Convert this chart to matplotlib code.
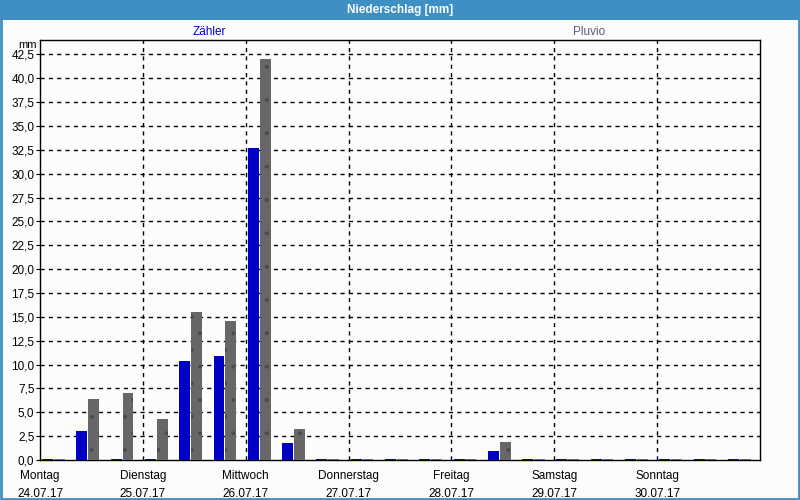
import matplotlib
matplotlib.use("Agg")
import matplotlib.pyplot as plt
from matplotlib.patches import Rectangle
from matplotlib.ticker import FixedLocator, FuncFormatter
import numpy as np

# 8-hour precipitation sums, Mon 24.07.17 .. Sun 30.07.17
zaehler = [0.1, 3.0, 0.1, 0.1, 10.4, 10.9, 32.7, 1.8, 0.1, 0.1, 0.1,
           0.1, 0.1, 0.9, 0.1, 0.1, 0.1, 0.1, 0.1, 0.1, 0.1]
pluvio = [0.1, 6.4, 7.0, 4.3, 15.5, 14.6, 42.0, 3.3, 0.1, 0.1, 0.1,
          0.1, 0.1, 1.9, 0.1, 0.1, 0.1, 0.1, 0.1, 0.1, 0.1]
days = ["Montag", "Dienstag", "Mittwoch", "Donnerstag", "Freitag", "Samstag", "Sonntag"]
dates = ["24.07.17", "25.07.17", "26.07.17", "27.07.17", "28.07.17", "29.07.17", "30.07.17"]
y_ticks = [i * 2.5 for i in range(18)]

plt.rcParams["font.family"] = ["Liberation Sans", "DejaVu Sans"]
bg = "#fbfcfb"
blue = "#0000c4"
gray = "#676767"

fig = plt.figure(figsize=(8, 5), dpi=100, facecolor=bg)

# title bar + window frame
fig.patches.append(Rectangle((0, 0.96), 1, 0.04, transform=fig.transFigure,
                             facecolor="#3d8fc4", edgecolor="none", zorder=0))
fig.patches.append(Rectangle((0.001, 0.002), 0.998, 0.996, transform=fig.transFigure,
                             facecolor="none", edgecolor="#3d8fc4", linewidth=2, zorder=0))
fig.text(0.5, 0.98, "Niederschlag [mm]", color="white", fontweight="bold",
         fontsize=8.5, ha="center", va="center")
fig.text(209 / 800, 0.936, "Zähler", color=blue, fontsize=8.5, ha="center", va="center")
fig.text(589 / 800, 0.936, "Pluvio", color="#5a5a82", fontsize=8.5, ha="center", va="center")

ax = fig.add_axes([0.05, 0.08, 0.90, 0.84], facecolor=bg)

slot = 8  # hours
x = np.arange(len(zaehler)) * slot
ax.bar(x + 0.5, zaehler, width=2.55, align="edge", color=blue, linewidth=0, zorder=3)
plt.rcParams["hatch.color"] = "#4a4a4a"
plt.rcParams["hatch.linewidth"] = 0.4
ax.bar(x + 3.25, pluvio, width=2.55, align="edge", color=gray, linewidth=0,
       hatch=".", zorder=3)

ax.set_xlim(0, 168)
ax.set_ylim(0, 44.0)

ax.yaxis.set_major_locator(FixedLocator(y_ticks))
ax.yaxis.set_major_formatter(FuncFormatter(lambda v, p: f"{v:.1f}".replace(".", ",")))
ax.set_xticks(np.arange(len(days)) * 24)
ax.set_xticklabels([f"{d}\n{t}" for d, t in zip(days, dates)], linespacing=1.7)

ax.grid(False)
for v in y_ticks[1:]:
    ax.axhline(v, color="black", linewidth=1, linestyle=(0, (3, 3)), zorder=1)
for v in np.arange(1, 7) * 24:
    ax.axvline(v, color="black", linewidth=1, linestyle=(0, (3, 3)), zorder=1)

ax.tick_params(axis="y", length=3, labelsize=8.5, pad=1, direction="out")
ax.tick_params(axis="x", which="both", length=0, labelsize=8.5, pad=7)
for s in ax.spines.values():
    s.set_linewidth(1)
    s.set_color("black")

ax.text(-0.005, 1.0, "mm", transform=ax.transAxes, fontsize=8, ha="right", va="top")

plt.savefig("out.png", dpi=100, facecolor=bg)
plt.close()
